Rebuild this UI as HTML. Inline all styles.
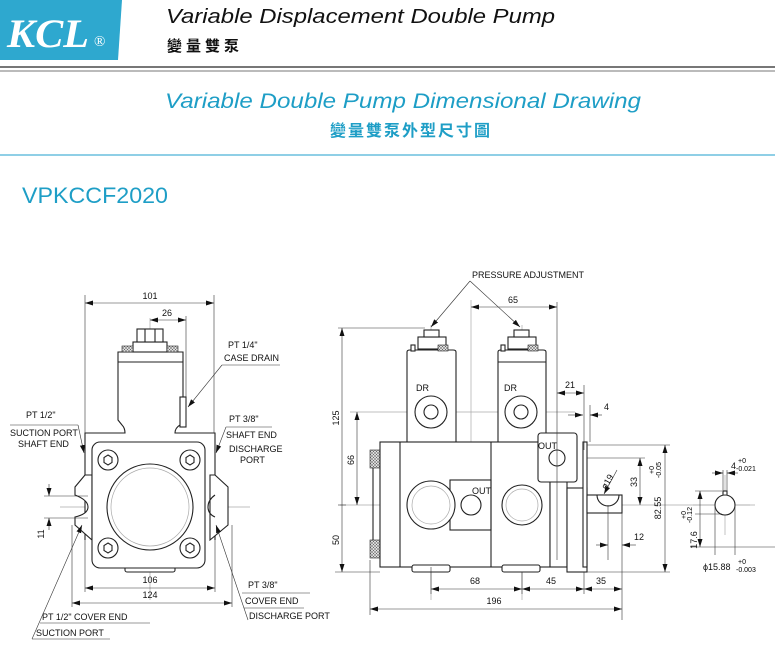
<!DOCTYPE html>
<html><head><meta charset="utf-8"><style>
html,body{margin:0;padding:0;background:#fff;width:775px;height:653px;overflow:hidden}
svg{display:block}
.t{font-family:"Liberation Sans",Arial,sans-serif;font-size:9px;fill:#111}
.l{stroke:#222;stroke-width:1.1;fill:none}
.b{stroke:#222;stroke-width:1.1;fill:#fff}
.c{stroke:#aaa;stroke-width:0.7;fill:none}
.d{stroke:#333;stroke-width:0.6;fill:none}
</style></head><body>
<svg width="775" height="653" viewBox="0 0 775 653" xmlns="http://www.w3.org/2000/svg">
<defs>
<marker id="a" markerWidth="8" markerHeight="6" refX="8" refY="3" orient="auto-start-reverse" markerUnits="userSpaceOnUse"><path d="M0,0.5 L8,3 L0,5.5z" fill="#111"/></marker>
<pattern id="h" width="3" height="3" patternUnits="userSpaceOnUse"><rect width="3" height="3" fill="#ddd"/><path d="M0,0 L3,3 M3,0 L0,3" stroke="#666" stroke-width="0.5"/></pattern>
</defs>
<!-- header -->
<polygon points="0,0 122,0 118,60 0,60" fill="#2ea8cf"/>
<text x="7" y="47" font-family="Liberation Serif,serif" font-style="italic" font-weight="bold" font-size="40" fill="#fff" textLength="82" lengthAdjust="spacingAndGlyphs">KCL</text>
<text x="94" y="46" font-family="Liberation Serif,serif" font-size="15" fill="#fff">®</text>
<text x="166" y="23" font-family="Liberation Sans,sans-serif" font-style="italic" font-size="20" fill="#111" textLength="389" lengthAdjust="spacingAndGlyphs">Variable Displacement  Double Pump</text>
<text x="167" y="51" font-family="Liberation Sans,'Noto Sans CJK TC',sans-serif" font-weight="bold" font-size="15" letter-spacing="4" fill="#111">變量雙泵</text>
<rect x="0" y="66" width="775" height="2" fill="#777"/>
<rect x="0" y="70" width="775" height="2" fill="#bbb"/>
<text x="165" y="108" font-family="Liberation Sans,sans-serif" font-style="italic" font-size="21" fill="#1e9ec6" textLength="476" lengthAdjust="spacingAndGlyphs">Variable  Double Pump  Dimensional Drawing</text>
<text x="411" y="136" text-anchor="middle" font-family="Liberation Sans,'Noto Sans CJK TC',sans-serif" font-weight="bold" font-size="16" letter-spacing="2" fill="#1e9ec6">變量雙泵外型尺寸圖</text>
<rect x="0" y="154" width="775" height="2" fill="#8fcfe6"/>
<text x="22" y="203" font-family="Liberation Sans,sans-serif" font-size="22" fill="#1e9ec6" textLength="146" lengthAdjust="spacingAndGlyphs">VPKCCF2020</text>

<!-- LEFT VIEW -->
<g>
<line class="c" x1="150" y1="318" x2="150" y2="600"/>
<line class="c" x1="60" y1="507" x2="250" y2="507"/>
<path class="b" d="M85,540 L85,433 L125,433 Q125,428 122,425 L118,420 L118,352 L183,352 L183,420 L180,425 Q175,428 175,433 L215,433 L215,540"/>
<line class="l" x1="118" y1="362" x2="183" y2="362"/>
<rect class="b" x="180" y="397" width="6" height="30"/>
<rect class="b" x="133" y="342" width="34" height="10"/>
<rect class="b" x="137" y="329" width="26" height="13"/>
<line class="l" x1="145" y1="329" x2="145" y2="342"/><line class="l" x1="155" y1="329" x2="155" y2="342"/>
<rect x="122" y="346" width="11" height="6" fill="url(#h)" stroke="#222" stroke-width="0.6"/>
<rect x="167" y="346" width="11" height="6" fill="url(#h)" stroke="#222" stroke-width="0.6"/>
<path class="b" d="M85,475 L75,487 L75,495 Q88,500 88,507 Q88,514 75,517 L75,525 L92,540 L92,475z"/>
<path class="b" d="M215,475 L228,487 L228,525 L210,540 L210,475z"/>
<path class="l" d="M215,495 Q208,500 208,507 Q208,514 215,517"/>
<rect class="b" x="125" y="565" width="50" height="7" rx="2"/>
<rect class="b" x="92" y="442" width="113" height="126" rx="8"/>
<circle class="l" cx="150" cy="507" r="43"/>
<circle class="c" cx="150" cy="507" r="39"/>
<g class="l">
<circle cx="108" cy="460" r="10"/><circle cx="190" cy="460" r="10"/><circle cx="108" cy="548" r="10"/><circle cx="190" cy="548" r="10"/>
<polygon points="108,455 112,457.5 112,462.5 108,465 104,462.5 104,457.5"/>
<polygon points="190,455 194,457.5 194,462.5 190,465 186,462.5 186,457.5"/>
<polygon points="108,543 112,545.5 112,550.5 108,553 104,550.5 104,545.5"/>
<polygon points="190,543 194,545.5 194,550.5 190,553 186,550.5 186,545.5"/>
</g>
<!-- dims -->
<line class="d" x1="85" y1="295" x2="85" y2="433"/><line class="d" x1="214" y1="295" x2="214" y2="433"/>
<line class="d" x1="85" y1="303" x2="214" y2="303" marker-start="url(#a)" marker-end="url(#a)"/>
<text class="t" x="150" y="299" text-anchor="middle">101</text>
<line class="d" x1="186" y1="316" x2="186" y2="420"/>
<line class="d" x1="150" y1="320" x2="186" y2="320" marker-start="url(#a)" marker-end="url(#a)"/>
<text class="t" x="167" y="316" text-anchor="middle">26</text>
<line class="d" x1="85" y1="540" x2="85" y2="592"/><line class="d" x1="215" y1="540" x2="215" y2="592"/>
<line class="d" x1="85" y1="588" x2="215" y2="588" marker-start="url(#a)" marker-end="url(#a)"/>
<text class="t" x="150" y="583" text-anchor="middle">106</text>
<line class="d" x1="72" y1="525" x2="72" y2="607"/><line class="d" x1="232" y1="525" x2="232" y2="607"/>
<line class="d" x1="72" y1="603" x2="232" y2="603" marker-start="url(#a)" marker-end="url(#a)"/>
<text class="t" x="150" y="598" text-anchor="middle">124</text>
<line class="d" x1="44" y1="496" x2="88" y2="496"/><line class="d" x1="44" y1="518" x2="88" y2="518"/>
<line class="d" x1="49" y1="484" x2="49" y2="496" marker-end="url(#a)"/>
<line class="d" x1="49" y1="530" x2="49" y2="518" marker-end="url(#a)"/>
<text class="t" x="44" y="534" transform="rotate(-90 44 534)" text-anchor="middle">11</text>
<!-- labels -->
<text class="t" x="228" y="348">PT 1/4"</text>
<text class="t" x="224" y="361">CASE DRAIN</text>
<line class="d" x1="222" y1="365" x2="280" y2="365"/>
<line class="d" x1="222" y1="365" x2="188" y2="407" marker-end="url(#a)"/>
<text class="t" x="26" y="418">PT 1/2"</text>
<text class="t" x="10" y="436">SUCTION PORT</text>
<text class="t" x="18" y="447">SHAFT END</text>
<line class="d" x1="10" y1="425" x2="78" y2="425"/>
<line class="d" x1="78" y1="425" x2="84" y2="453" marker-end="url(#a)"/>
<text class="t" x="229" y="422">PT 3/8"</text>
<text class="t" x="226" y="438">SHAFT END</text>
<text class="t" x="229" y="452">DISCHARGE</text>
<text class="t" x="240" y="463">PORT</text>
<line class="d" x1="226" y1="427" x2="272" y2="427"/>
<line class="d" x1="226" y1="427" x2="216" y2="453" marker-end="url(#a)"/>
<text class="t" x="248" y="588">PT 3/8"</text>
<text class="t" x="245" y="604">COVER END</text>
<text class="t" x="249" y="619">DISCHARGE PORT</text>
<line class="d" x1="242" y1="593" x2="310" y2="593"/>
<line class="d" x1="244" y1="608" x2="304" y2="608"/>
<line class="d" x1="248" y1="620" x2="216" y2="525" marker-end="url(#a)"/>
<text class="t" x="42" y="620">PT 1/2" COVER END</text>
<text class="t" x="36" y="636">SUCTION PORT</text>
<line class="d" x1="40" y1="623" x2="150" y2="623"/>
<line class="d" x1="32" y1="639" x2="110" y2="639"/>
<line class="d" x1="32" y1="639" x2="82" y2="525" marker-end="url(#a)"/>
</g>

<!-- RIGHT VIEW -->
<g>
<line class="c" x1="340" y1="505" x2="750" y2="505"/>
<line class="c" x1="431" y1="325" x2="431" y2="600"/>
<line class="c" x1="522" y1="325" x2="522" y2="600"/>
<line class="c" x1="471" y1="300" x2="471" y2="560"/>
<line class="c" x1="350" y1="412" x2="575" y2="412"/>
<rect x="370" y="450" width="10" height="18" fill="url(#h)" stroke="#222" stroke-width="0.6"/>
<rect x="370" y="540" width="10" height="18" fill="url(#h)" stroke="#222" stroke-width="0.6"/>
<line class="l" x1="373" y1="468" x2="373" y2="540"/>
<path class="b" d="M407,442 L407,352 Q407,350 410,350 L453,350 Q456,350 456,352 L456,442z"/>
<path class="b" d="M498,442 L498,352 Q498,350 501,350 L543,350 Q546,350 546,352 L546,442z"/>
<line class="l" x1="498" y1="362" x2="546" y2="362"/>
<rect class="b" x="418" y="337" width="28" height="12"/>
<rect class="b" x="424" y="330" width="15" height="7"/>
<rect class="b" x="508" y="337" width="28" height="12"/>
<rect class="b" x="514" y="330" width="15" height="7"/>
<rect x="438" y="345" width="10" height="6" fill="url(#h)" stroke="#222" stroke-width="0.6"/>
<rect x="528" y="345" width="10" height="6" fill="url(#h)" stroke="#222" stroke-width="0.6"/>
<rect class="b" x="411" y="345" width="4" height="6"/>
<rect class="b" x="501" y="345" width="4" height="6"/>
<rect class="b" x="380" y="442" width="170" height="125"/>
<rect class="b" x="550" y="442" width="17" height="125"/>
<line class="l" x1="400" y1="442" x2="400" y2="567"/>
<line class="l" x1="491" y1="442" x2="491" y2="567"/>
<rect class="b" x="567" y="488" width="20" height="84"/>
<rect class="b" x="583" y="442" width="4" height="125"/>
<rect class="b" x="587" y="495" width="35" height="18"/>
<path class="b" d="M597,495 A11,11 0 0 0 619,495 z"/>
<rect class="b" x="412" y="565" width="38" height="7" rx="2"/>
<rect class="b" x="502" y="565" width="38" height="7" rx="2"/>
<rect class="l" x="450" y="480" width="41" height="50"/>
<circle class="b" cx="431" cy="505" r="24"/><circle class="c" cx="431" cy="505" r="19"/>
<circle class="b" cx="522" cy="505" r="20"/><circle class="c" cx="522" cy="505" r="16"/>
<circle class="b" cx="471" cy="505" r="10"/>
<circle class="b" cx="431" cy="412" r="16"/><circle class="l" cx="431" cy="412" r="7"/>
<circle class="b" cx="521" cy="412" r="16"/><circle class="l" cx="521" cy="412" r="7"/>
<rect class="b" x="538" y="433" width="39" height="49" rx="3"/>
<circle class="b" cx="557" cy="458" r="8"/>
<text class="t" x="416" y="391">DR</text>
<text class="t" x="504" y="391">DR</text>
<text class="t" x="538" y="449">OUT</text>
<text class="t" x="472" y="494">OUT</text>
<!-- dims -->
<text class="t" x="472" y="278">PRESSURE ADJUSTMENT</text>
<line class="d" x1="470" y1="281" x2="431" y2="327" marker-end="url(#a)"/>
<line class="d" x1="470" y1="281" x2="520" y2="327" marker-end="url(#a)"/>
<line class="d" x1="557" y1="302" x2="557" y2="560"/>
<line class="d" x1="471" y1="307" x2="557" y2="307" marker-start="url(#a)" marker-end="url(#a)"/>
<text class="t" x="513" y="303" text-anchor="middle">65</text>
<line class="d" x1="338" y1="328" x2="425" y2="328"/>
<line class="d" x1="335" y1="572" x2="380" y2="572"/>
<line class="d" x1="342" y1="328" x2="342" y2="505" marker-start="url(#a)"/>
<line class="d" x1="342" y1="505" x2="342" y2="572" marker-end="url(#a)"/>
<line class="d" x1="338" y1="505" x2="346" y2="505"/>
<text class="t" x="339" y="418" transform="rotate(-90 339 418)" text-anchor="middle">125</text>
<text class="t" x="339" y="540" transform="rotate(-90 339 540)" text-anchor="middle">50</text>
<line class="d" x1="357" y1="412" x2="357" y2="505" marker-start="url(#a)" marker-end="url(#a)"/>
<text class="t" x="354" y="460" transform="rotate(-90 354 460)" text-anchor="middle">66</text>
<line class="d" x1="584" y1="385" x2="584" y2="450"/>
<line class="d" x1="557" y1="393" x2="584" y2="393" marker-start="url(#a)" marker-end="url(#a)"/>
<text class="t" x="570" y="388" text-anchor="middle">21</text>
<line class="d" x1="590" y1="405" x2="590" y2="442"/>
<line class="d" x1="568" y1="415" x2="583" y2="415" marker-end="url(#a)"/>
<line class="d" x1="602" y1="415" x2="590" y2="415" marker-end="url(#a)"/>
<text class="t" x="604" y="410">4</text>
<line class="d" x1="587" y1="445" x2="670" y2="445"/>
<line class="d" x1="587" y1="458" x2="645" y2="458"/>
<line class="d" x1="587" y1="572" x2="670" y2="572"/>
<line class="d" x1="640" y1="458" x2="640" y2="505" marker-start="url(#a)" marker-end="url(#a)"/>
<text class="t" x="637" y="482" transform="rotate(-90 637 482)" text-anchor="middle">33</text>
<line class="d" x1="665" y1="445" x2="665" y2="572" marker-start="url(#a)" marker-end="url(#a)"/>
<text class="t" x="661" y="508" transform="rotate(-90 661 508)" text-anchor="middle">82.55</text>
<text x="654" y="470" transform="rotate(-90 654 470)" text-anchor="middle" font-family="Liberation Sans,sans-serif" font-size="7">+0</text>
<text x="661" y="470" transform="rotate(-90 661 470)" text-anchor="middle" font-family="Liberation Sans,sans-serif" font-size="7">-0.05</text>
<text class="t" x="606" y="490" transform="rotate(-60 606 490)">ø19</text>
<line class="d" x1="617" y1="470" x2="604" y2="494" marker-end="url(#a)"/>
<line class="d" x1="608" y1="505" x2="608" y2="560"/>
<line class="d" x1="622" y1="513" x2="622" y2="620"/>
<line class="d" x1="596" y1="545" x2="608" y2="545" marker-end="url(#a)"/>
<line class="d" x1="636" y1="545" x2="622" y2="545" marker-end="url(#a)"/>
<text class="t" x="634" y="540">12</text>
<line class="d" x1="370" y1="560" x2="370" y2="615"/>
<line class="d" x1="431" y1="567" x2="431" y2="594"/>
<line class="d" x1="522" y1="572" x2="522" y2="594"/>
<line class="d" x1="584" y1="572" x2="584" y2="594"/>
<line class="d" x1="431" y1="589" x2="522" y2="589" marker-start="url(#a)" marker-end="url(#a)"/>
<line class="d" x1="522" y1="589" x2="584" y2="589" marker-start="url(#a)" marker-end="url(#a)"/>
<line class="d" x1="584" y1="589" x2="622" y2="589" marker-start="url(#a)" marker-end="url(#a)"/>
<text class="t" x="475" y="584" text-anchor="middle">68</text>
<text class="t" x="551" y="584" text-anchor="middle">45</text>
<text class="t" x="601" y="584" text-anchor="middle">35</text>
<line class="d" x1="370" y1="609" x2="622" y2="609" marker-start="url(#a)" marker-end="url(#a)"/>
<text class="t" x="494" y="604" text-anchor="middle">196</text>
</g>

<!-- shaft detail -->
<g>
<line class="c" x1="693" y1="505" x2="755" y2="505"/>
<line class="c" x1="725" y1="475" x2="725" y2="535"/>
<rect class="b" x="723" y="491" width="4" height="5"/>
<circle class="b" cx="725" cy="505" r="10"/>
<line class="d" x1="723" y1="470" x2="723" y2="491"/><line class="d" x1="727" y1="470" x2="727" y2="491"/>
<line class="d" x1="712" y1="473" x2="723" y2="473" marker-end="url(#a)"/>
<line class="d" x1="738" y1="473" x2="727" y2="473" marker-end="url(#a)"/>
<text class="t" x="731" y="469">4</text>
<text x="738" y="463" font-family="Liberation Sans,sans-serif" font-size="7">+0</text>
<text x="736" y="471" font-family="Liberation Sans,sans-serif" font-size="7">-0.021</text>
<line class="d" x1="695" y1="491" x2="722" y2="491"/>
<line class="d" x1="695" y1="514" x2="722" y2="514"/>
<line class="d" x1="715" y1="505" x2="715" y2="555"/><line class="d" x1="735" y1="505" x2="735" y2="555"/>
<line class="d" x1="690" y1="547" x2="775" y2="547"/>
<line class="d" x1="700" y1="491" x2="700" y2="547" marker-start="url(#a)" marker-end="url(#a)"/>
<text class="t" x="697" y="540" transform="rotate(-90 697 540)" text-anchor="middle">17.6</text>
<text x="686" y="515" transform="rotate(-90 686 515)" text-anchor="middle" font-family="Liberation Sans,sans-serif" font-size="7">+0</text>
<text x="692" y="515" transform="rotate(-90 692 515)" text-anchor="middle" font-family="Liberation Sans,sans-serif" font-size="7">-0.12</text>
<text class="t" x="703" y="570">ϕ15.88</text>
<text x="738" y="564" font-family="Liberation Sans,sans-serif" font-size="7">+0</text>
<text x="736" y="572" font-family="Liberation Sans,sans-serif" font-size="7">-0.003</text>
</g>
</svg>
</body></html>
